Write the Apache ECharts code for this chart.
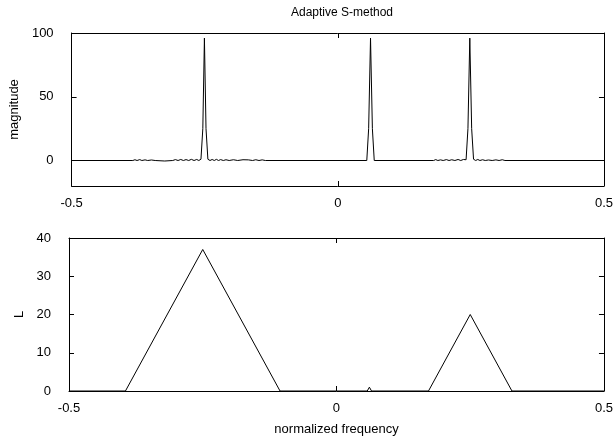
<!DOCTYPE html>
<html lang="en">
<head>
    <meta charset="UTF-8">
    <title>Adaptive S-method</title>
    <script src="https://cdn.jsdelivr.net/npm/echarts@6/dist/echarts.min.js"></script>
    <style>
        html, body { margin: 0; padding: 0; background: #fff; }
    </style>
</head>
<body>
<div id="main" style="height:443px;width:616px"></div>

<script type="text/javascript">
    // frequency axis ticks
    var freqTicks = [-0.5, 0, 0.5];
    var magTicks = [0, 50, 100];
    var lTicks = [0, 10, 20, 30, 40];

    // top panel: magnitude of the adaptive S-method, [freq, value]
    var magPoints = [
        [-0.5, 0], [-0.385, 0], [-0.381, 0.6], [-0.377, 0], [-0.372, 0.7], [-0.368, 0], [-0.362, 0.5],
        [-0.357, 0], [-0.35, 0.4], [-0.343, 0], [-0.325, -0.4], [-0.31, 0], [-0.305, 0.7], [-0.3, 0],
        [-0.295, 0.8], [-0.29, 0], [-0.285, 0.7], [-0.28, 0], [-0.275, 0.9], [-0.27, 0], [-0.265, 0.8],
        [-0.261, 0], [-0.257, 1], [-0.2535, 25], [-0.2505, 96], [-0.2475, 25], [-0.244, 1], [-0.24, 0],
        [-0.236, 0.8], [-0.232, 0], [-0.228, 0.9], [-0.224, 0], [-0.22, 0.7], [-0.215, 0], [-0.21, 0.6],
        [-0.204, 0], [-0.196, 0.6], [-0.188, 0], [-0.178, 0.6], [-0.168, 0.5], [-0.16, 0], [-0.154, 0.6],
        [-0.148, 0], [-0.142, 0.5], [-0.136, 0], [0.0545, 0], [0.058, 25], [0.0615, 96], [0.065, 25],
        [0.0685, 0], [0.18, 0], [0.184, 0.7], [0.188, 0], [0.193, 0.5], [0.198, 0], [0.204, 0.7],
        [0.209, 0], [0.214, 0.6], [0.22, 0], [0.226, 0.8], [0.231, 0], [0.236, 0.8], [0.241, 0.6],
        [0.2445, 25], [0.248, 96], [0.2515, 25], [0.255, 1], [0.259, 0], [0.263, 0.8], [0.267, 0],
        [0.272, 0.6], [0.277, 0], [0.283, 0.4], [0.29, 0], [0.297, 0.5], [0.303, 0], [0.309, 0.6],
        [0.314, 0], [0.5, 0]
    ];

    // bottom panel: adaptive window width L, [freq, L]
    var lPoints = [
        [-0.5, 0], [-0.3945, 0], [-0.25, 37], [-0.1055, 0], [0.0575, 0], [0.0615, 1], [0.0655, 0],
        [0.172, 0], [0.25, 20], [0.328, 0], [0.5, 0]
    ];

    var font = 'Liberation Sans, Arial, sans-serif';
    var tickStyle = { show: true, inside: true, length: 5, lineStyle: { color: '#000', width: 1 } };

    function xAxisMain(gridIndex, name) {
        return {
            type: 'value', gridIndex: gridIndex, position: 'bottom',
            min: -0.5, max: 0.5, interval: 0.5,
            name: name, nameLocation: 'middle', nameGap: 32,
            nameTextStyle: { color: '#000', fontFamily: font, fontSize: 13 },
            axisLine: { show: true, onZero: false, lineStyle: { color: '#000', width: 1 } },
            axisTick: tickStyle,
            axisLabel: {
                color: '#000', fontFamily: font, fontSize: 13, margin: 11,
                customValues: freqTicks,
                formatter: function (v) { return String(v); }
            },
            splitLine: { show: false }
        };
    }
    function xAxisMirror(gridIndex) {
        return {
            type: 'value', gridIndex: gridIndex, position: 'top',
            min: -0.5, max: 0.5, interval: 0.5,
            axisLine: { show: true, onZero: false, lineStyle: { color: '#000', width: 1 } },
            axisTick: tickStyle,
            axisLabel: { show: false },
            splitLine: { show: false }
        };
    }
    function yAxisPair(gridIndex, min, max, ticks, name) {
        return [{
            type: 'value', gridIndex: gridIndex, position: 'left',
            min: min, max: max,
            name: name, nameLocation: 'middle', nameGap: 42, nameRotate: 90,
            nameTextStyle: { color: '#000', fontFamily: font, fontSize: 13 },
            axisLine: { show: true, onZero: false, lineStyle: { color: '#000', width: 1 } },
            axisTick: Object.assign({}, tickStyle, { customValues: ticks }),
            axisLabel: { color: '#000', fontFamily: font, fontSize: 13, margin: 18, customValues: ticks },
            splitLine: { show: false }
        }, {
            type: 'value', gridIndex: gridIndex, position: 'right',
            min: min, max: max,
            axisLine: { show: true, onZero: false, lineStyle: { color: '#000', width: 1 } },
            axisTick: Object.assign({}, tickStyle, { customValues: ticks }),
            axisLabel: { show: false },
            splitLine: { show: false }
        }];
    }

    var yTop = yAxisPair(0, -20, 100, magTicks, 'magnitude');
    var yBot = yAxisPair(1, 0, 40, lTicks, 'L');

    var myChart = echarts.init(document.getElementById('main'), null, { renderer: 'canvas' });
    myChart.setOption({
        animation: false,
        backgroundColor: '#fff',
        title: {
            text: 'Adaptive S-method', left: 337, top: 2, textAlign: 'center',
            textStyle: { color: '#000', fontFamily: font, fontSize: 12, fontWeight: 'normal' }
        },
        grid: [
            { left: 69, right: 11, top: 33, height: 153 },
            { left: 69, right: 11, top: 238, height: 153 }
        ],
        xAxis: [xAxisMain(0, ''), xAxisMirror(0), xAxisMain(1, 'normalized frequency'), xAxisMirror(1)],
        yAxis: [yTop[0], yTop[1], yBot[0], yBot[1]],
        series: [
            {
                type: 'line', xAxisIndex: 0, yAxisIndex: 0, data: magPoints,
                showSymbol: false, lineStyle: { color: '#000', width: 1 }
            },
            {
                type: 'line', xAxisIndex: 2, yAxisIndex: 2, data: lPoints,
                showSymbol: false, lineStyle: { color: '#000', width: 1 }
            }
        ]
    });
</script>
</body>
</html>
